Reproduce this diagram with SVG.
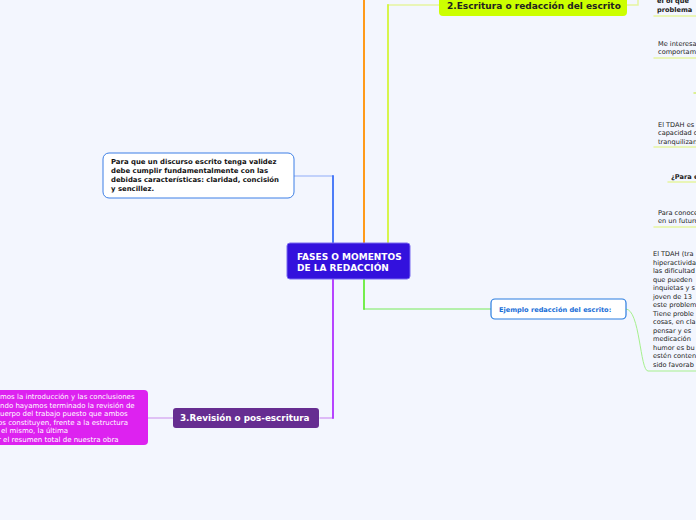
<svg xmlns="http://www.w3.org/2000/svg" width="696" height="520" viewBox="0 0 696 520">
<style>
text{font-family:"DejaVu Sans",Verdana,sans-serif}
.b{font-weight:bold}
.sm{font-size:6.6px;fill:#222}
.ln{fill:none;stroke-linecap:round}
.ul{stroke:#e6f5a0;stroke-width:1.5}
</style>
<rect width="696" height="520" fill="#f3f6fe"/>
<g id="connectors" class="ln">
<path d="M333 176 H294" stroke="#8fabf7" stroke-width="1.2"/>
<path d="M333 243 V176" stroke="#3a6ff8" stroke-width="1.8"/>
<path d="M364 243 V0" stroke="#ff9a1a" stroke-width="2"/>
<path d="M388 5 H440" stroke="#e6f5a0" stroke-width="1.5"/>
<path d="M388 243 V5" stroke="#d4f53a" stroke-width="1.8"/>
<path d="M364 309 H491" stroke="#a0ee90" stroke-width="1.5"/>
<path d="M364 279 V309" stroke="#66ee3a" stroke-width="1.8"/>
<path d="M333 418 H320" stroke="#d6a6f5" stroke-width="1.5"/>
<path d="M333 279 V418" stroke="#b030ff" stroke-width="1.8"/>
<path d="M148 418 H173" stroke="#d9b0f2" stroke-width="1.5"/>
<path d="M627 5 H638 V0" stroke="#e6f5a0" stroke-width="1.5"/>
<path d="M626 309 C640 309 640 371 648 371 H696" stroke="#a6f08e" stroke-width="1"/>
<path d="M694 93 H696" stroke="#d4ee70" stroke-width="1.5"/>
</g>
<g id="central">
<rect x="287" y="243" width="123" height="36" rx="3" fill="#3311dd" stroke="#7a6af0" stroke-width="1"/>
<text class="b" x="297" y="260" font-size="9" fill="#fff">FASES O MOMENTOS</text>
<text class="b" x="297" y="271" font-size="9" fill="#fff">DE LA REDACCIÓN</text>
</g>
<g id="escritura">
<rect x="439" y="-8" width="188" height="24" rx="4" fill="#ccff00"/>
<text class="b" x="447" y="9" font-size="9" fill="#222">2.Escritura o redacción del escrito</text>
</g>
<g id="validez">
<rect x="103" y="153" width="191" height="45" rx="6" fill="#fff" stroke="#3d7fe6" stroke-width="1"/>
<text class="b" font-size="6.9" fill="#111"><tspan x="111" y="164">Para que un discurso escrito tenga validez</tspan><tspan x="111" y="173">debe cumplir fundamentalmente con las</tspan><tspan x="111" y="182">debidas características:  claridad, concisión</tspan><tspan x="111" y="191">y sencillez.</tspan></text>
</g>
<g id="ejemplo">
<rect x="491" y="299" width="135" height="20" rx="4" fill="#fff" stroke="#2a7de0" stroke-width="1.2"/>
<text class="b" x="499" y="312" font-size="6.6" fill="#1a6fd8">Ejemplo redacción del escrito:</text>
</g>
<g id="revision">
<rect x="173" y="408" width="146" height="20" rx="3" fill="#662d91"/>
<text class="b" x="180" y="421" font-size="8.8" fill="#fff">3.Revisión o pos-escritura</text>
</g>
<g id="introduccion">
<rect x="-10" y="390" width="158" height="55" rx="4" fill="#dd22f0"/>
<text font-size="7" fill="#fff"><tspan x="0" y="399">mos la introducción y las conclusiones</tspan><tspan x="0" y="408">ndo hayamos terminado la revisión de</tspan><tspan x="0" y="416">uerpo del trabajo puesto que ambos</tspan><tspan x="-2" y="425">os constituyen, frente a la estructura</tspan><tspan x="1" y="433">el mismo, la última</tspan><tspan x="-2" y="442">r el resumen total de nuestra obra</tspan></text>
</g>
<g id="problema">
<path class="ln ul" d="M654 16 H696"/>
<text class="b sm" x="657" y="3">el ol que</text>
<text class="b sm" x="657" y="12">problema</text>
</g>
<g id="interesa">
<path class="ln ul" d="M654 58 H696"/>
<text class="sm" x="658" y="46">Me interesa</text>
<text class="sm" x="658" y="54">comportam</text>
</g>
<g id="tdah1">
<path class="ln ul" d="M654 147 H696"/>
<text class="sm" x="658" y="127">El TDAH es</text>
<text class="sm" x="658" y="135">capacidad d</text>
<text class="sm" x="658" y="144">tranquilizars</text>
</g>
<g id="para">
<path class="ln ul" d="M668 182 H696"/>
<text class="b sm" x="671" y="179">¿Para e</text>
</g>
<g id="conocer">
<path class="ln ul" d="M654 227 H696"/>
<text class="sm" x="658" y="215">Para conoce</text>
<text class="sm" x="658" y="223">en un futuro</text>
</g>
<g id="tdah2">
<text class="sm"><tspan x="653" y="256">El TDAH (tra</tspan><tspan x="653" y="265">hiperactivida</tspan><tspan x="653" y="273">las dificultad</tspan><tspan x="653" y="282">que pueden</tspan><tspan x="653" y="290">inquietas y s</tspan><tspan x="653" y="299">joven de 13</tspan><tspan x="653" y="307">este problem</tspan><tspan x="653" y="316">Tiene proble</tspan><tspan x="653" y="324">cosas, en cla</tspan><tspan x="653" y="333">pensar y es</tspan><tspan x="653" y="341">medicación</tspan><tspan x="653" y="350">humor es bu</tspan><tspan x="653" y="358">estén conten</tspan><tspan x="653" y="367">sido favorab</tspan></text>
</g>
</svg>
